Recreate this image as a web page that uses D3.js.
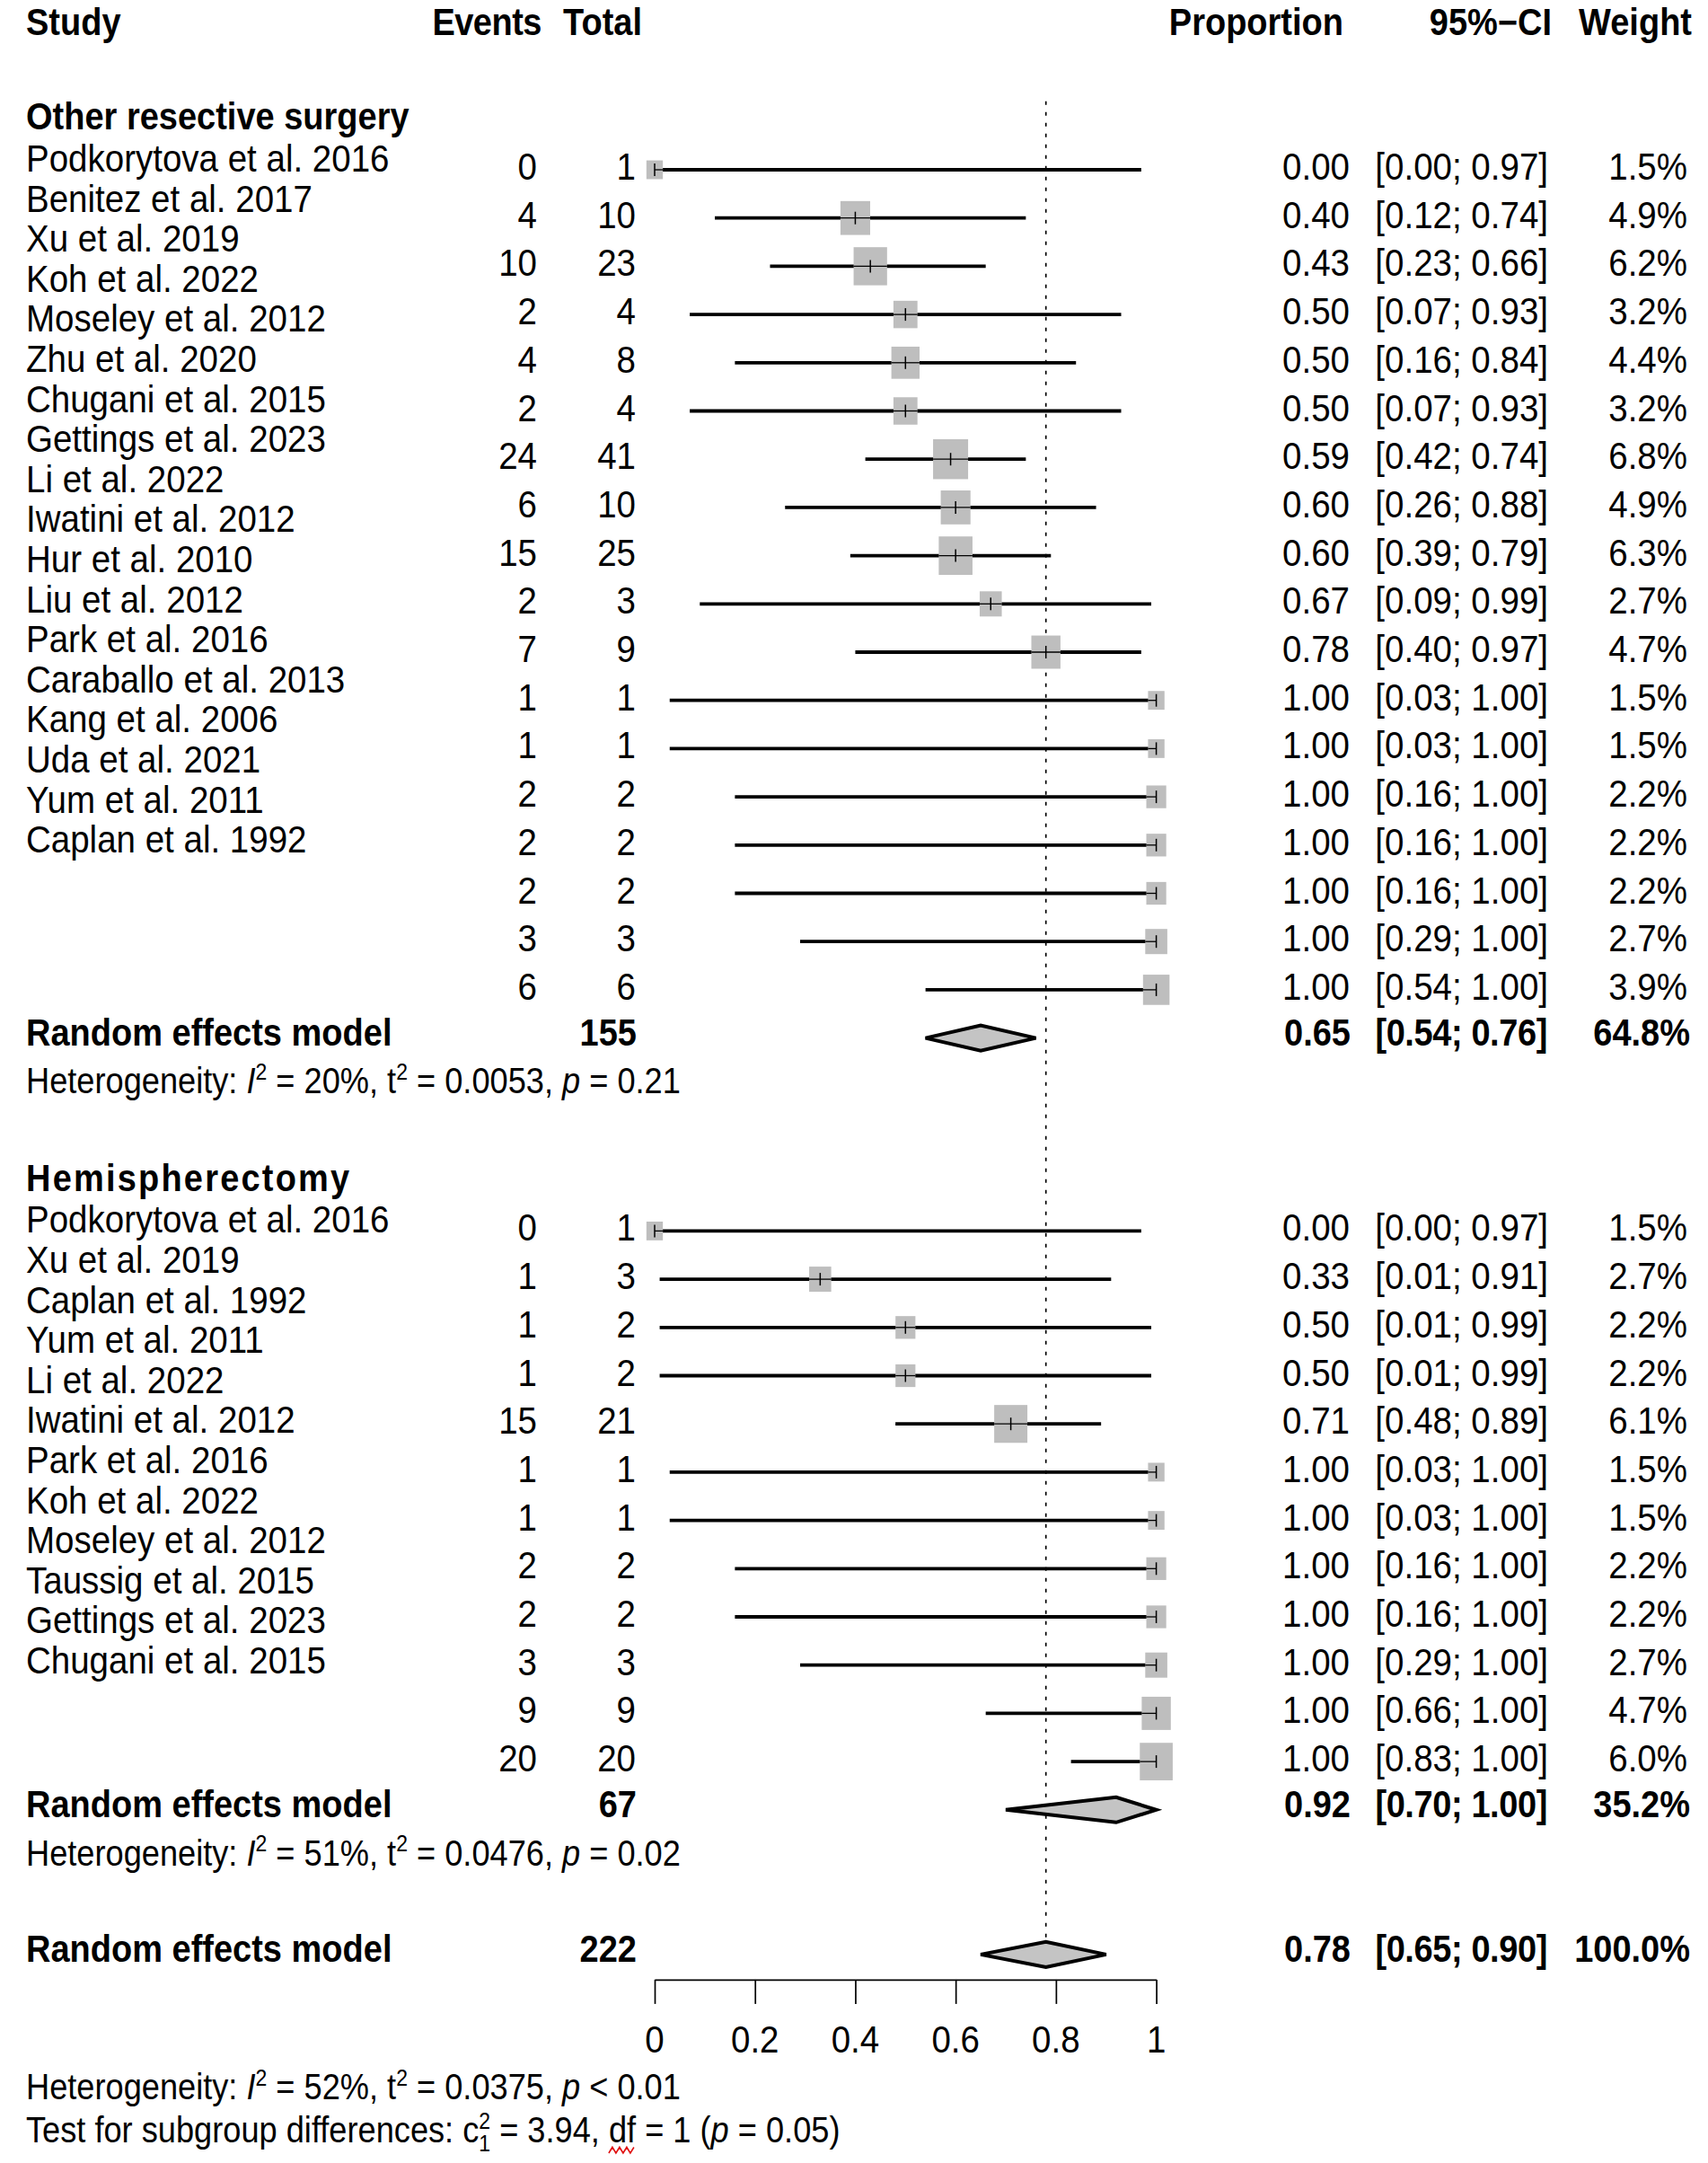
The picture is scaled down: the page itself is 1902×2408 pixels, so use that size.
<!DOCTYPE html>
<html>
<head>
<meta charset="utf-8">
<script src="https://cdnjs.cloudflare.com/ajax/libs/d3/7.8.5/d3.min.js"></script>
<style>
  body { margin: 0; background: #fff; }
  svg text { font-family: "Liberation Sans", Arial, Helvetica, sans-serif; fill: #000; }
</style>
</head>
<body>
<div id="chart"></div>
<script>
// ---- data: other resective surgery ----
const studies1 = ["Podkorytova et al. 2016","Benitez et al. 2017","Xu et al. 2019","Koh et al. 2022",
  "Moseley et al. 2012","Zhu  et al. 2020","Chugani et al. 2015","Gettings et al. 2023","Li et al. 2022",
  "Iwatini et al. 2012","Hur et al. 2010","Liu et al. 2012","Park et al. 2016","Caraballo et al. 2013",
  "Kang et al. 2006","Uda et al. 2021","Yum  et al. 2011","Caplan et al. 1992"];
const events1  = [0, 4, 10, 2, 4, 2, 24, 6, 15, 2, 7, 1, 1, 2, 2, 2, 3, 6];
const totals1  = [1, 10, 23, 4, 8, 4, 41, 10, 25, 3, 9, 1, 1, 2, 2, 2, 3, 6];
const props1   = [0.00, 0.40, 0.43, 0.50, 0.50, 0.50, 0.59, 0.60, 0.60, 0.67, 0.78, 1.00, 1.00, 1.00, 1.00, 1.00, 1.00, 1.00];
const lower1   = [0.00, 0.12, 0.23, 0.07, 0.16, 0.07, 0.42, 0.26, 0.39, 0.09, 0.40, 0.03, 0.03, 0.16, 0.16, 0.16, 0.29, 0.54];
const upper1   = [0.97, 0.74, 0.66, 0.93, 0.84, 0.93, 0.74, 0.88, 0.79, 0.99, 0.97, 1.00, 1.00, 1.00, 1.00, 1.00, 1.00, 1.00];
const weights1 = [1.5, 4.9, 6.2, 3.2, 4.4, 3.2, 6.8, 4.9, 6.3, 2.7, 4.7, 1.5, 1.5, 2.2, 2.2, 2.2, 2.7, 3.9];

// ---- data: hemispherectomy ----
const studies2 = ["Podkorytova et al. 2016","Xu  et al. 2019","Caplan et al. 1992","Yum  et al. 2011",
  "Li et al. 2022","Iwatini et al. 2012","Park et al. 2016","Koh  et al. 2022","Moseley et al. 2012",
  "Taussig et al. 2015","Gettings et al. 2023","Chugani et al. 2015"];
const events2  = [0, 1, 1, 1, 15, 1, 1, 2, 2, 3, 9, 20];
const totals2  = [1, 3, 2, 2, 21, 1, 1, 2, 2, 3, 9, 20];
const props2   = [0.00, 0.33, 0.50, 0.50, 0.71, 1.00, 1.00, 1.00, 1.00, 1.00, 1.00, 1.00];
const lower2   = [0.00, 0.01, 0.01, 0.01, 0.48, 0.03, 0.03, 0.16, 0.16, 0.29, 0.66, 0.83];
const upper2   = [0.97, 0.91, 0.99, 0.99, 0.89, 1.00, 1.00, 1.00, 1.00, 1.00, 1.00, 1.00];
const weights2 = [1.5, 2.7, 2.2, 2.2, 6.1, 1.5, 1.5, 2.2, 2.2, 2.7, 4.7, 6.0];

// ---- pooled estimates: group 1, group 2, overall ----
const groupNames   = ["Other resective surgery", "Hemispherectomy"];
const pooledTotal  = [155, 67, 222];
const pooledProp   = [0.65, 0.92, 0.78];
const pooledLower  = [0.54, 0.70, 0.65];
const pooledUpper  = [0.76, 1.00, 0.90];
const pooledWeight = [64.8, 35.2, 100.0];
const hetI2   = ["20%", "51%", "52%"];
const hetTau2 = ["0.0053", "0.0476", "0.0375"];
const hetP    = ["= 0.21", "= 0.02", "< 0.01"];
const subgroupChi2 = "3.94", subgroupDf = 1, subgroupP = "0.05";
const xTicks = [0, 0.2, 0.4, 0.6, 0.8, 1];

// ---- layout ----
const W = 1902, H = 2408;
const FS = 38.5, FSB = 38, FSR = 36.2, STRETCH = 1.1;
const f2 = d3.format(".2f"), f1 = d3.format(".1f");

const svg = d3.select("#chart").append("svg").attr("width", W).attr("height", H);
svg.append("rect").attr("width", W).attr("height", H).attr("fill", "#fff");

const x = d3.scaleLinear().domain([0, 1]).range([729, 1287.6]);
const row = d3.scaleLinear().domain([0, 1]).range([189, 242.7]);   // row index -> y
const box = d3.scaleSqrt().domain([0, 6.8]).range([0, 39]);         // weight -> box width

const n1 = props1.length, n2 = props2.length;
const g1Start = 0, g1Sum = n1, g1Het = n1 + 1;
const g2Head = n1 + 3, g2Start = n1 + 4, g2Sum = g2Start + n2, g2Het = g2Sum + 1;
const allRow = g2Het + 2;
const axisY = row(allRow) + 28;

// text helper: wraps text in a g (vertical stretch like the original picture)
function txt(xp, yp, s, anchor, bold, size) {
  const g = svg.append("g").attr("transform", `translate(${xp},${yp}) scale(1,${STRETCH})`);
  const t = g.append("text")
    .attr("text-anchor", anchor || "start")
    .style("font-size", (size || (bold ? FSB : FS)) + "px")
    .style("font-weight", bold ? "bold" : "normal");
  if (s !== null) t.text(s);
  return t;
}

// rich text with italics / superscripts / subscripts
function rich(xp, yp, segs) {
  const t = txt(xp, yp, null, "start", false, FSR);
  let shift = 0;
  segs.forEach(s => {
    const target = s.sup ? -14 : (s.sub ? 9 : 0);
    const sp = t.append("tspan").text(s.t).attr("dy", target - shift);
    if (s.dx) sp.attr("dx", s.dx);
    if (s.sup || s.sub) sp.style("font-size", "23px");
    if (s.i) sp.style("font-style", "italic");
    shift = target;
  });
  return t;
}

function hetSegs(k) {
  return [{t: "Heterogeneity: "}, {t: "I", i: 1}, {t: "2", sup: 1}, {t: " = " + hetI2[k] + ", t"},
          {t: "2", sup: 1}, {t: " = " + hetTau2[k] + ", "}, {t: "p", i: 1}, {t: " " + hetP[k]}];
}

// ---- column headers ----
const headY = row(-3) + 11;
txt(29, headY, "Study", "start", true);
txt(603, headY, "Events", "end", true).style("letter-spacing", "-0.5px");
txt(715, headY, "Total", "end", true);
txt(1496, headY, "Proportion", "end", true);
txt(1728, headY, "95%\u2212CI", "end", true);
txt(1884, headY, "Weight", "end", true);

// ---- reference line ----
svg.append("line")
  .attr("x1", x(pooledProp[2])).attr("x2", x(pooledProp[2]))
  .attr("y1", row(-1.42)).attr("y2", row(allRow))
  .attr("stroke", "#000").attr("stroke-width", 1.7).attr("stroke-dasharray", "4,8");

// ---- study rows ----
function drawGroup(gi, headRow, startRow, studies, events, totals, props, lower, upper, weights) {
  const hd = txt(29, row(headRow) + 9, groupNames[gi], "start", true);
  if (gi === 1) hd.style("letter-spacing", "2.2px");

  // study labels (own spacing, as in the original)
  studies.forEach((s, i) => txt(29, row(startRow) + 2 + i * 44.6, s, "start", false));

  props.forEach((p, i) => {
    const y = row(startRow + i);
    const ty = y + 11;
    txt(598, ty, String(events[i]), "end");
    txt(708, ty, String(totals[i]), "end");
    txt(1503, ty, f2(p), "end");
    txt(1724, ty, `[${f2(lower[i])}; ${f2(upper[i])}]`, "end");
    txt(1879, ty, f1(weights[i]) + "%", "end");

    // CI line
    svg.append("line").attr("x1", x(lower[i])).attr("x2", x(upper[i]))
      .attr("y1", y).attr("y2", y).attr("stroke", "#000").attr("stroke-width", 3.8);
    // weighted box
    const bw = box(weights[i]), bh = bw * 1.14;
    svg.append("rect").attr("x", x(p) - bw / 2).attr("y", y - bh / 2)
      .attr("width", bw).attr("height", bh).attr("fill", "#bebebe");
    // thin CI inside the box + estimate tick
    const a = Math.max(x(lower[i]), x(p) - bw / 2), b = Math.min(x(upper[i]), x(p) + bw / 2);
    svg.append("line").attr("x1", a).attr("x2", b).attr("y1", y).attr("y2", y)
      .attr("stroke", "#000").attr("stroke-width", 1.3);
    svg.append("line").attr("x1", x(p)).attr("x2", x(p)).attr("y1", y - 7).attr("y2", y + 7)
      .attr("stroke", "#000").attr("stroke-width", 1.5);
  });
}

drawGroup(0, -1, g1Start, studies1, events1, totals1, props1, lower1, upper1, weights1);
drawGroup(1, g2Head, g2Start, studies2, events2, totals2, props2, lower2, upper2, weights2);

// ---- pooled rows ----
const sumRows = [g1Sum, g2Sum, allRow];
sumRows.forEach((r, k) => {
  const y = row(r), ty = y + 8;
  txt(29, ty, "Random effects model", "start", true);
  txt(709, ty, String(pooledTotal[k]), "end", true);
  txt(1504, ty, f2(pooledProp[k]), "end", true);
  txt(1723, ty, `[${f2(pooledLower[k])}; ${f2(pooledUpper[k])}]`, "end", true).style("letter-spacing", "-0.4px");
  txt(1882, ty, f1(pooledWeight[k]) + "%", "end", true);
  const h = 14;
  svg.append("polygon")
    .attr("points", [[x(pooledLower[k]), y], [x(pooledProp[k]), y - h], [x(pooledUpper[k]), y], [x(pooledProp[k]), y + h]].join(" "))
    .attr("fill", "#c4c4c4").attr("stroke", "#000").attr("stroke-width", 4).attr("stroke-linejoin", "miter");
});

// subgroup heterogeneity
rich(29, row(g1Het) + 8, hetSegs(0));
rich(29, row(g2Het) + 8, hetSegs(1));

// ---- axis ----
const axis = d3.axisBottom(x).tickValues(xTicks).tickFormat(d3.format("~g"))
  .tickSize(27).tickSizeOuter(0);
const ax = svg.append("g").attr("transform", `translate(0,${axisY})`).call(axis);
ax.select(".domain").attr("stroke-width", 1.7);
ax.selectAll(".tick line").attr("stroke-width", 1.7);
ax.selectAll(".tick text").remove();
xTicks.forEach(v => txt(x(v), axisY + 81, d3.format("~g")(v), "middle"));

// ---- overall heterogeneity and subgroup test ----
rich(29, axisY + 133, hetSegs(2));
const test = rich(29, axisY + 181, [
  {t: "Test for subgroup differences: c"}, {t: "2", sup: 1}, {t: "1", sub: 1, dx: -12.8},
  {t: " = " + subgroupChi2 + ", "}, {t: "df"}, {t: " = " + subgroupDf + " ("}, {t: "p", i: 1},
  {t: " = " + subgroupP + ")"}]);

// red spell-check squiggle under "df" (as in the picture)
const tn = test.node();
const di = tn.textContent.indexOf("df");
const e0 = tn.getExtentOfChar(di), e1 = tn.getExtentOfChar(di + 1);
const sx0 = e0.x, sx1 = e1.x + e1.width;
const pts = [];
for (let k = 0, px = sx0; px <= sx1; k++, px += 4) pts.push([px, 8 + (k % 2 ? -3 : 3)]);
d3.select(tn.parentNode).append("path")
  .attr("d", d3.line()(pts)).attr("fill", "none").attr("stroke", "#e01010").attr("stroke-width", 1.6);
</script>
</body>
</html>
